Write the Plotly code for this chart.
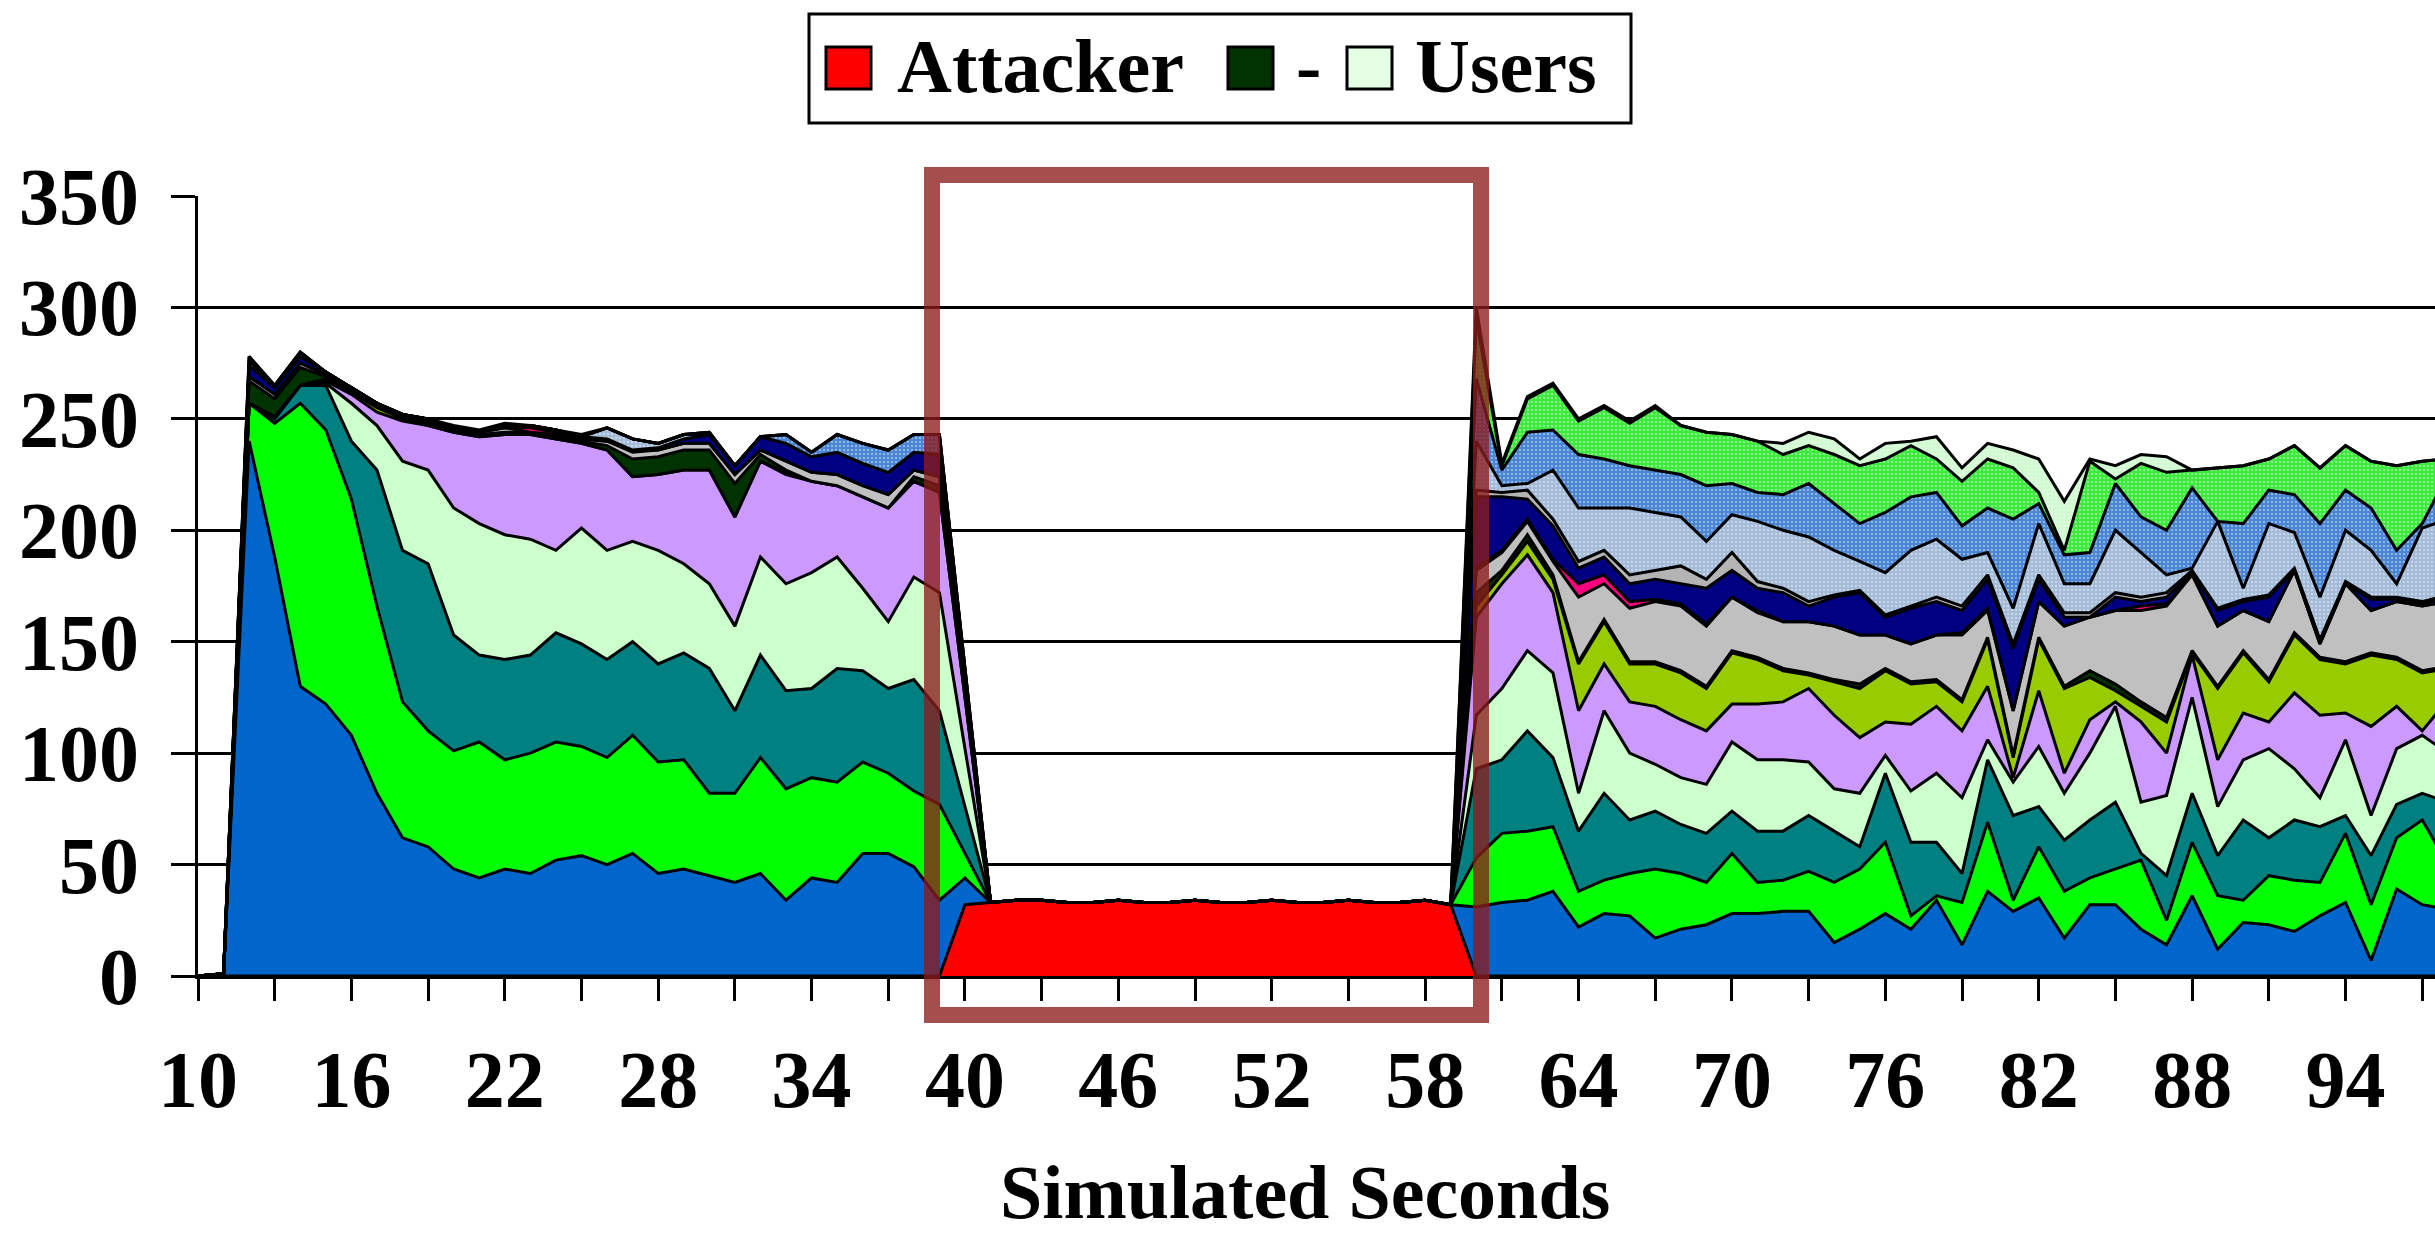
import plotly.graph_objects as go

# Simulated time axis (one sample per second)
seconds = list(range(10, 99))

# Stacked series, bottom to top, one value per second (10 .. 98)
attacker = [
    0, 0, 0, 0, 0, 0, 0, 0, 0, 0,
    0, 0, 0, 0, 0, 0, 0, 0, 0, 0,
    0, 0, 0, 0, 0, 0, 0, 0, 0, 0,
    32, 33, 34, 34, 33, 33, 34, 33, 33, 34,
    33, 33, 34, 33, 33, 34, 33, 33, 34, 32,
    0, 0, 0, 0, 0, 0, 0, 0, 0, 0,
    0, 0, 0, 0, 0, 0, 0, 0, 0, 0,
    0, 0, 0, 0, 0, 0, 0, 0, 0, 0,
    0, 0, 0, 0, 0, 0, 0, 0, 0,
]
user_blue = [
    0, 1, 240, 188, 130, 122, 108, 82, 62, 58,
    48, 44, 48, 46, 52, 54, 50, 55, 46, 48,
    45, 42, 46, 34, 44, 42, 55, 55, 49, 34,
    12, 0, 0, 0, 0, 0, 0, 0, 0, 0,
    0, 0, 0, 0, 0, 0, 0, 0, 0, 0,
    31, 33, 34, 38, 22, 28, 27, 17, 21, 23,
    28, 28, 29, 29, 15, 21, 28, 21, 34, 14,
    38, 29, 35, 17, 32, 32, 21, 14, 36, 12,
    24, 23, 20, 27, 33, 7, 39, 32, 30,
]
user_green = [
    0, 0, 17, 60, 127, 123, 106, 84, 61, 52,
    53, 61, 49, 54, 53, 49, 48, 53, 50, 49,
    37, 40, 52, 50, 45, 45, 41, 36, 34, 43,
    11, 0, 0, 0, 0, 0, 0, 0, 0, 0,
    0, 0, 0, 0, 0, 0, 0, 0, 0, 0,
    22, 31, 31, 29, 16, 15, 19, 31, 25, 19,
    27, 14, 14, 18, 27, 27, 32, 6, 2, 19,
    31, 5, 23, 21, 12, 16, 31, 11, 24, 24,
    10, 22, 23, 15, 31, 25, 23, 38, 20,
]
user_teal = [
    0, 0, 0, 2, 8, 20, 26, 61, 68, 75,
    52, 39, 45, 44, 49, 46, 44, 42, 44, 48,
    56, 37, 46, 44, 40, 51, 41, 38, 50, 42,
    21, 0, 0, 0, 0, 0, 0, 0, 0, 0,
    0, 0, 0, 0, 0, 0, 0, 0, 0, 0,
    40, 33, 45, 31, 27, 39, 24, 26, 22, 22,
    19, 23, 22, 25, 23, 10, 31, 33, 24, 13,
    28, 38, 18, 23, 26, 30, 3, 20, 22, 18,
    36, 17, 27, 25, 8, 22, 15, 12, 28,
]
user_lightgreen = [
    0, 0, 0, 0, 0, 1, 17, 20, 40, 42,
    57, 59, 56, 52, 37, 52, 49, 45, 51, 40,
    38, 38, 44, 48, 52, 50, 37, 30, 46, 53,
    26, 0, 0, 0, 0, 0, 0, 0, 0, 0,
    0, 0, 0, 0, 0, 0, 0, 0, 0, 0,
    24, 32, 36, 38, 17, 37, 30, 21, 21, 22,
    31, 32, 32, 24, 19, 24, 8, 23, 31, 34,
    9, 15, 27, 21, 30, 43, 23, 36, 43, 22,
    27, 40, 23, 13, 34, 18, 25, 26, 22,
]
user_lavender = [
    0, 0, 0, 1, 0, 1, 4, 6, 18, 20,
    34, 39, 45, 47, 50, 38, 45, 29, 34, 42,
    51, 49, 43, 49, 41, 32, 41, 51, 43, 45,
    23, 0, 0, 0, 0, 0, 0, 0, 0, 0,
    0, 0, 0, 0, 0, 0, 0, 0, 0, 0,
    44, 47, 43, 36, 37, 21, 23, 26, 26, 24,
    17, 25, 26, 33, 33, 25, 15, 30, 30, 30,
    24, 2, 25, 9, 15, 2, 36, 19, 19, 21,
    21, 12, 34, 37, 12, 40, 19, 2, 24,
]
user_olive = [
    0, 0, 0, 0, 0, 1, 1, 2, 1, 0,
    0, 0, 0, 0, 0, 0, 0, 0, 0, 0,
    0, 0, 0, 1, 0, 0, 0, 0, 0, 0,
    0, 0, 0, 0, 0, 0, 0, 0, 0, 0,
    0, 0, 0, 0, 0, 0, 0, 0, 0, 0,
    5, 4, 6, 6, 21, 19, 17, 19, 21, 19,
    23, 20, 14, 6, 15, 22, 23, 18, 11, 13,
    21, 9, 23, 38, 19, 5, 7, 14, 1, 32,
    27, 18, 26, 25, 22, 32, 21, 26, 14,
]
dash_darkgreen = [
    0, 0, 10, 8, 8, 1, 1, 1, 1, 1,
    1, 1, 1, 1, 1, 1, 2, 8, 8, 9,
    9, 15, 3, 1, 0, 0, 0, 0, 2, 3,
    2, 0, 0, 0, 0, 0, 0, 0, 0, 0,
    0, 0, 0, 0, 0, 0, 0, 0, 0, 0,
    6, 2, 3, 2, 1, 1, 1, 1, 1, 1,
    1, 1, 1, 1, 1, 2, 1, 1, 1, 1,
    1, 1, 1, 1, 3, 3, 2, 2, 1, 1,
    1, 1, 1, 1, 1, 1, 1, 1, 1,
]
user_gray = [
    0, 0, 2, 2, 2, 1, 1, 1, 1, 1,
    1, 1, 2, 0, 1, 1, 2, 3, 3, 3,
    3, 4, 2, 4, 4, 5, 5, 6, 3, 4,
    2, 0, 0, 0, 0, 0, 0, 0, 0, 0,
    0, 0, 0, 0, 0, 0, 0, 0, 0, 0,
    10, 8, 6, 6, 29, 16, 24, 27, 29, 27,
    24, 20, 21, 23, 24, 22, 15, 17, 20, 29,
    12, 20, 16, 27, 24, 33, 41, 50, 34, 27,
    18, 26, 28, 6, 35, 19, 25, 29, 29,
]
user_pink = [
    0, 0, 0, 0, 0, 0, 0, 0, 0, 0,
    0, 0, 0, 2, 1, 0, 0, 1, 0, 0,
    0, 0, 0, 0, 0, 0, 0, 0, 0, 0,
    0, 0, 0, 0, 0, 0, 0, 0, 0, 0,
    0, 0, 0, 0, 0, 0, 0, 0, 0, 0,
    1, 1, 1, 1, 6, 4, 3, 1, 1, 1,
    0, 1, 0, 0, 0, 0, 0, 0, 0, 1,
    1, 0, 0, 0, 0, 0, 2, 1, 0, 0,
    0, 0, 0, 0, 0, 0, 0, 0, 0,
]
user_navy = [
    0, 0, 5, 3, 3, 1, 0, 0, 0, 1,
    0, 0, 1, 1, 1, 1, 1, 0, 1, 2,
    4, 4, 6, 8, 7, 10, 10, 10, 8, 10,
    5, 0, 0, 0, 0, 0, 0, 0, 0, 0,
    0, 0, 0, 0, 0, 0, 0, 0, 0, 0,
    32, 24, 9, 15, 7, 8, 8, 9, 9, 16,
    12, 10, 13, 7, 13, 19, 8, 16, 15, 10,
    13, 28, 10, 4, 0, 6, 2, 3, 1, 7,
    4, 11, 0, 1, 0, 5, 1, 1, 2,
]
user_silver = [
    0, 0, 0, 0, 0, 0, 0, 0, 0, 0,
    0, 0, 0, 0, 0, 0, 0, 0, 0, 0,
    0, 0, 0, 0, 0, 0, 0, 0, 0, 0,
    0, 0, 0, 0, 0, 0, 0, 0, 0, 0,
    0, 0, 0, 0, 0, 0, 0, 0, 0, 0,
    3, 2, 4, 3, 3, 3, 4, 4, 8, 4,
    8, 3, 2, 2, 1, 1, 1, 1, 2, 2,
    2, 2, 2, 2, 2, 2, 2, 2, 1, 1,
    1, 1, 1, 1, 1, 1, 1, 1, 1,
]
user_skyblue_dots = [
    0, 0, 0, 0, 0, 0, 0, 0, 0, 0,
    0, 0, 0, 0, 0, 0, 5, 5, 2, 2,
    0, 0, 0, 0, 0, 0, 0, 0, 0, 0,
    0, 0, 0, 0, 0, 0, 0, 0, 0, 0,
    0, 0, 0, 0, 0, 0, 0, 0, 0, 0,
    22, 3, 3, 22, 24, 19, 30, 26, 22, 17,
    17, 27, 26, 29, 20, 13, 19, 25, 26, 21,
    10, 16, 23, 13, 13, 28, 20, 8, 1, 39,
    5, 32, 16, 19, 23, 21, 6, 33, 34,
]
user_blue_dots = [
    0, 0, 2, 1, 2, 0, 0, 0, 0, 0,
    0, 0, 0, 0, 0, 0, 0, 0, 0, 0,
    1, 0, 0, 4, 2, 8, 9, 10, 8, 9,
    4, 0, 0, 0, 0, 0, 0, 0, 0, 0,
    0, 0, 0, 0, 0, 0, 0, 0, 0, 0,
    28, 7, 23, 18, 24, 22, 19, 19, 19, 25,
    14, 13, 16, 24, 21, 17, 27, 24, 21, 15,
    20, 40, 9, 13, 14, 21, 16, 20, 36, 0,
    29, 15, 17, 33, 18, 19, 15, 2, 20,
]
user_green_dots = [
    0, 0, 2, 0, 0, 0, 0, 0, 0, 0,
    0, 0, 0, 0, 0, 0, 0, 0, 0, 0,
    0, 0, 0, 0, 0, 0, 0, 0, 0, 0,
    0, 0, 0, 0, 0, 0, 0, 0, 0, 0,
    0, 0, 0, 0, 0, 0, 0, 0, 0, 0,
    27, 2, 15, 20, 15, 23, 19, 28, 22, 24,
    22, 23, 18, 17, 22, 26, 24, 23, 15, 20,
    22, 23, 5, 2, 41, 2, 24, 26, 8, 24,
    26, 14, 22, 25, 20, 21, 38, 28, 7,
]
users = [
    0, 0, 0, 0, 0, 0, 0, 0, 0, 0,
    1, 1, 1, 0, 0, 1, 0, 0, 0, 0,
    0, 0, 0, 0, 0, 0, 0, 0, 0, 0,
    0, 0, 0, 0, 0, 0, 0, 0, 0, 0,
    0, 0, 0, 0, 0, 0, 0, 0, 0, 0,
    5, 1, 1, 1, 1, 1, 1, 1, 0, 0,
    0, 0, 5, 6, 7, 3, 7, 2, 10, 6,
    7, 8, 15, 22, 1, 6, 4, 7, 0, 0,
    0, 0, 0, 0, 0, 0, 0, 0, 0,
]

# Axis ticks
x_tick_vals = [10, 13, 16, 19, 22, 25, 28, 31, 34, 37, 40, 43, 46, 49, 52,
               55, 58, 61, 64, 67, 70, 73, 76, 79, 82, 85, 88, 91, 94, 97]
x_tick_text = ["10", "", "16", "", "22", "", "28", "", "34", "", "40", "", "46", "", "52",
               "", "58", "", "64", "", "70", "", "76", "", "82", "", "88", "", "94", ""]
y_tick_vals = [0, 50, 100, 150, 200, 250, 300, 350]

# name, values, fill colour, dotted fill
layers = [
    ("Attacker", attacker, "#FF0000", False),
    ("user 1", user_blue, "#0066CC", False),
    ("user 2", user_green, "#00FF00", False),
    ("user 3", user_teal, "#008080", False),
    ("user 4", user_lightgreen, "#CCFFCC", False),
    ("user 5", user_lavender, "#CC99FF", False),
    ("user 6", user_olive, "#99CC00", False),
    ("-", dash_darkgreen, "#003300", False),
    ("user 7", user_gray, "#C0C0C0", False),
    ("user 8", user_pink, "#FF0080", False),
    ("user 9", user_navy, "#000080", False),
    ("user 10", user_silver, "#B4B4B4", False),
    ("user 11", user_skyblue_dots, "#A4BCD8", True),
    ("user 12", user_blue_dots, "#4A86D4", True),
    ("user 13", user_green_dots, "#3EEA3E", True),
    ("Users", users, "#D0FAD0", True),
]

W, H = 2435, 1237
ML, MR, MT, MB = 198, 0, 196, 261
PW = W - ML - MR
PH = H - MT - MB


def xp(px):
    return (px - ML) / PW


def yp(py):
    return (H - MB - py) / PH


FONT = "Liberation Serif"

fig = go.Figure()
for name, vals, color, dotted in layers:
    trace = dict(
        x=seconds, y=vals, name=name, mode="lines", stackgroup="all",
        line=dict(color="black", width=3, shape="linear"),
        fillcolor=color, showlegend=False, hoverinfo="skip",
    )
    if dotted:
        trace["fillpattern"] = dict(shape=".", bgcolor=color, fgcolor="white",
                                    size=4, solidity=0.22)
    fig.add_trace(go.Scatter(**trace))

tick_font = dict(family=FONT, size=80, color="black", weight="bold")

fig.update_xaxes(
    range=[10, 97.5], tickmode="array", tickvals=x_tick_vals, ticktext=x_tick_text,
    ticks="outside", ticklen=22, tickwidth=3, tickcolor="black",
    showline=True, linecolor="black", linewidth=3,
    showgrid=False, zeroline=False, tickfont=tick_font, ticklabelstandoff=10,
)
fig.update_yaxes(
    range=[0, 350], tickmode="array", tickvals=y_tick_vals,
    ticks="outside", ticklen=24, tickwidth=3, tickcolor="black",
    showline=True, linecolor="black", linewidth=3,
    showgrid=True, gridcolor="black", gridwidth=3,
    zeroline=False, tickfont=tick_font, ticklabelstandoff=16,
)

shapes = [
    # highlight frame around the attack window
    dict(type="rect", xref="paper", yref="paper",
         x0=xp(932), x1=xp(1481), y0=yp(1015), y1=yp(175),
         line=dict(color="rgba(140,28,28,0.78)", width=16),
         fillcolor="rgba(0,0,0,0)", layer="above"),
    # legend frame
    dict(type="rect", xref="paper", yref="paper",
         x0=xp(809), x1=xp(1631), y0=yp(123), y1=yp(14),
         line=dict(color="black", width=3), fillcolor="white", layer="above"),
]
legend_items = [
    ("Attacker", "#FF0000", 826, 895),
    ("-", "#003300", 1228, 1294),
    ("Users", "#E4FFE4", 1347, 1413),
]
annotations = []
for label, color, sq_x, text_x in legend_items:
    shapes.append(dict(type="rect", xref="paper", yref="paper",
                       x0=xp(sq_x), x1=xp(sq_x + 45), y0=yp(89), y1=yp(47),
                       line=dict(color="black", width=3), fillcolor=color, layer="above"))
    annotations.append(dict(text=label, xref="paper", yref="paper",
                            x=xp(text_x), y=yp(66), xanchor="left", yanchor="middle",
                            showarrow=False,
                            font=dict(family=FONT, size=76, color="black", weight="bold")))

annotations.append(dict(text="Simulated Seconds", xref="paper", yref="paper",
                        x=xp(1305), y=yp(1236), xanchor="center", yanchor="bottom",
                        showarrow=False,
                        font=dict(family=FONT, size=76, color="black", weight="bold")))

fig.update_layout(
    width=W, height=H,
    margin=dict(l=ML, r=MR, t=MT, b=MB, pad=0),
    paper_bgcolor="white", plot_bgcolor="white",
    showlegend=False,
    shapes=shapes, annotations=annotations,
)

fig.write_html("out.html")
